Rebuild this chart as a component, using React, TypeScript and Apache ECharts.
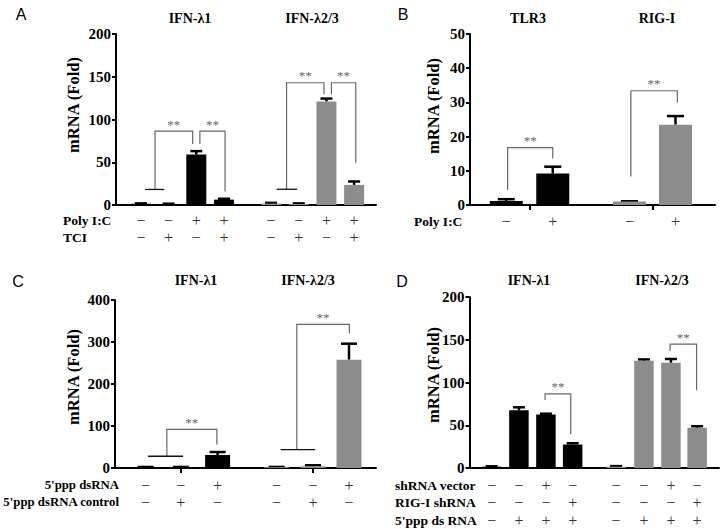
import React, { useEffect, useRef } from "react";
import * as echarts from "echarts";

const SERIF = "Liberation Serif, Times New Roman, serif";
const SANS = "Liberation Sans, Arial, sans-serif";

// ---------- Panel A ----------
const aGenes = ["IFN-λ1", "IFN-λ2/3"];
const aX = [0.9, 1.9, 2.9, 3.9, 5.6, 6.6, 7.6, 8.6];
const aGroup = [0, 0, 0, 0, 1, 1, 1, 1];
const aVal = [1.5, 1.2, 59, 6.3, 1.6, 1.2, 121, 23.5];
const aErr = [1.9, 1.5, 63, 7.3, 2.5, 1.9, 124.5, 27.5];
const aPolyIC = ["−", "−", "+", "+", "−", "−", "+", "+"];
const aTCI = ["−", "+", "−", "+", "−", "+", "−", "+"];
const aRowNames = ["Poly I:C", "TCI"];
// [xLeft, xRight, yTop, yLeftEnd, yRightEnd]
const aBrackets = [
  [1.41, 2.77, 86.4, 18.2, 71.4],
  [3.03, 3.94, 86.4, 71.4, 15.8],
  [6.16, 7.51, 143, 18.4, 129.5],
  [7.78, 8.66, 143, 129.5, 49.5],
];
// [xStart, xEnd, y]
const aLines = [
  [1.05, 1.74, 18.2],
  [5.8, 6.54, 18.4],
];

// ---------- Panel B ----------
const bGenes = ["TLR3", "RIG-I"];
const bX = [0.78, 1.78, 3.43, 4.42];
const bGroup = [0, 0, 1, 1];
const bVal = [1.2, 9.2, 1.0, 23.5];
const bErr = [1.7, 11.2, 1.1, 26.0];
const bPolyIC = ["−", "+", "−", "+"];
const bRowNames = ["Poly I:C"];
const bTicks = [1.285, 3.925];
const bBrackets = [
  [0.81, 1.78, 16.8, 4.4, 13.6],
  [3.46, 4.46, 33.4, 8.3, 29.9],
];

// ---------- Panel C ----------
const cGenes = ["IFN-λ1", "IFN-λ2/3"];
const cX = [0.85, 1.83, 2.85, 4.49, 5.5, 6.5];
const cGroup = [0, 0, 0, 1, 1, 1];
const cVal = [2, 2, 31, 2, 4, 258];
const cErr = [2.5, 2.5, 38, 2.5, 6.5, 296];
const cPpp = ["−", "−", "+", "−", "−", "+"];
const cPppCtrl = ["−", "+", "−", "−", "+", "−"];
const cRowNames = ["5'ppp dsRNA", "5'ppp dsRNA control"];
const cTicks = [1.83, 5.5];
const cBrackets = [
  [1.44, 2.83, 92, 28, 55.7],
  [5.05, 6.51, 342, 43.6, 320],
];
const cLines = [
  [0.92, 1.89, 28],
  [4.6, 5.56, 43.6],
];

// ---------- Panel D ----------
const dGenes = ["IFN-λ1", "IFN-λ2/3"];
const dX = [0.82, 1.83, 2.83, 3.82, 5.43, 6.46, 7.46, 8.43];
const dGroup = [0, 0, 0, 0, 1, 1, 1, 1];
const dVal = [1.5, 67.5, 62.5, 27.5, 1.5, 125.5, 123, 47];
const dErr = [2, 71, 63.5, 29, 2.2, 127, 127.5, 48.8];
const dVector = ["−", "−", "+", "−", "−", "−", "+", "−"];
const dRig = ["−", "−", "−", "+", "−", "−", "−", "+"];
const dPpp = ["−", "+", "+", "+", "−", "+", "+", "+"];
const dRowNames = ["shRNA vector", "RIG-I shRNA", "5'ppp ds RNA"];
const dBrackets = [
  [2.8, 3.75, 86.6, 79.5, 39.6],
  [7.43, 8.41, 145, 137, 91],
];

const COLORS = ["#000000", "#8c8c8c"];

type PanelDef = {
  grid: any;
  xMax: number;
  yMax: number;
  yInterval: number;
  xs: number[];
  groups: number[];
  vals: number[];
  errs: number[];
  barWidth: number;
  cap: number;
  rows: string[][];
  rowOffsets: number[];
  brackets: number[][];
  lines: number[][];
  ticks: number[] | null;
};

const panels: PanelDef[] = [
  {
    grid: { left: 116, top: 34, width: 260, height: 171 },
    xMax: 9.39, yMax: 200, yInterval: 50,
    xs: aX, groups: aGroup, vals: aVal, errs: aErr,
    barWidth: 20, cap: 12,
    rows: [aPolyIC, aTCI], rowOffsets: [15, 32],
    brackets: aBrackets, lines: aLines, ticks: null,
  },
  {
    grid: { left: 470, top: 34, width: 245, height: 171 },
    xMax: 5.27, yMax: 50, yInterval: 10,
    xs: bX, groups: bGroup, vals: bVal, errs: bErr,
    barWidth: 33, cap: 17,
    rows: [bPolyIC], rowOffsets: [16],
    brackets: bBrackets, lines: [], ticks: bTicks,
  },
  {
    grid: { left: 115, top: 300, width: 261, height: 168 },
    xMax: 7.25, yMax: 400, yInterval: 100,
    xs: cX, groups: cGroup, vals: cVal, errs: cErr,
    barWidth: 25, cap: 16,
    rows: [cPpp, cPppCtrl], rowOffsets: [17, 34],
    brackets: cBrackets, lines: cLines, ticks: cTicks,
  },
  {
    grid: { left: 469.5, top: 297, width: 249.5, height: 171 },
    xMax: 9.24, yMax: 200, yInterval: 50,
    xs: dX, groups: dGroup, vals: dVal, errs: dErr,
    barWidth: 19.5, cap: 12,
    rows: [dVector, dRig, dPpp], rowOffsets: [17, 34, 52],
    brackets: dBrackets, lines: [], ticks: null,
  },
];

function buildOption() {
  const grid: any[] = [];
  const xAxis: any[] = [];
  const yAxis: any[] = [];
  const series: any[] = [];

  panels.forEach((p, i) => {
    grid.push({ ...p.grid, containLabel: false });
    xAxis.push({
      type: "value",
      gridIndex: i,
      min: 0,
      max: p.xMax,
      axisLine: { show: true, onZero: false, lineStyle: { color: "#000", width: 2 } },
      axisTick: p.ticks
        ? { show: true, customValues: p.ticks, length: 5, inside: false, lineStyle: { color: "#000", width: 2 } }
        : { show: false },
      axisLabel: { show: false },
      splitLine: { show: false },
    });
    yAxis.push({
      type: "value",
      gridIndex: i,
      min: 0,
      max: p.yMax,
      interval: p.yInterval,
      axisLine: { show: true, lineStyle: { color: "#000", width: 2 } },
      axisTick: { show: true, length: 4, lineStyle: { color: "#000", width: 2 } },
      axisLabel: {
        color: "#000",
        fontFamily: SERIF,
        fontWeight: "bold",
        fontSize: 15,
        margin: 5,
      },
      splitLine: { show: false },
    });

    series.push({
      type: "bar",
      xAxisIndex: i,
      yAxisIndex: i,
      barWidth: p.barWidth,
      data: p.xs.map((x, k) => ({
        value: [x, p.vals[k]],
        itemStyle: { color: COLORS[p.groups[k]] },
      })),
    });

    const cap = p.cap;
    series.push({
      type: "custom",
      xAxisIndex: i,
      yAxisIndex: i,
      clip: false,
      data: p.xs.map((x, k) => [x, p.vals[k], p.errs[k]]),
      renderItem: (params: any, api: any) => {
        const x = api.value(0);
        const p0 = api.coord([x, api.value(1)]);
        const p1 = api.coord([x, api.value(2)]);
        return {
          type: "group",
          children: [
            { type: "line", shape: { x1: p0[0], y1: p0[1], x2: p1[0], y2: p1[1] }, style: { stroke: "#000", lineWidth: 2.5 } },
            { type: "line", shape: { x1: p1[0] - cap / 2, y1: p1[1], x2: p1[0] + cap / 2, y2: p1[1] }, style: { stroke: "#000", lineWidth: 2.5 } },
          ],
        };
      },
    });

    series.push({
      type: "custom",
      xAxisIndex: i,
      yAxisIndex: i,
      clip: false,
      data: p.brackets,
      renderItem: (params: any, api: any) => {
        const x1 = api.value(0), x2 = api.value(1), yt = api.value(2), yl = api.value(3), yr = api.value(4);
        const a = api.coord([x1, yl]);
        const b = api.coord([x1, yt]);
        const c = api.coord([x2, yt]);
        const d = api.coord([x2, yr]);
        return {
          type: "group",
          children: [
            { type: "polyline", shape: { points: [a, b, c, d] }, style: { stroke: "#666", lineWidth: 1.2, fill: "none" } },
            {
              type: "text",
              x: (b[0] + c[0]) / 2,
              y: b[1] - 7,
              style: { text: "**", fill: "#666", fontSize: 13, fontFamily: SERIF, align: "center", verticalAlign: "middle" },
            },
          ],
        };
      },
    });

    if (p.lines.length) {
      series.push({
        type: "custom",
        xAxisIndex: i,
        yAxisIndex: i,
        clip: false,
        data: p.lines,
        renderItem: (params: any, api: any) => {
          const a = api.coord([api.value(0), api.value(2)]);
          const b = api.coord([api.value(1), api.value(2)]);
          return { type: "line", shape: { x1: a[0], y1: a[1], x2: b[0], y2: b[1] }, style: { stroke: "#111", lineWidth: 1.3 } };
        },
      });
    }

    const entries: { x: number; row: number; text: string }[] = [];
    p.rows.forEach((row, r) => row.forEach((t, k) => entries.push({ x: p.xs[k], row: r, text: t })));
    const offs = p.rowOffsets;
    series.push({
      type: "custom",
      xAxisIndex: i,
      yAxisIndex: i,
      clip: false,
      data: entries.map((e) => [e.x, 0, e.row]),
      renderItem: (params: any, api: any) => {
        const e = entries[params.dataIndex];
        const pt = api.coord([api.value(0), 0]);
        return {
          type: "text",
          x: pt[0],
          y: pt[1] + offs[e.row],
          style: { text: e.text, fill: "#333", fontSize: 16, fontFamily: SERIF, align: "center", verticalAlign: "middle" },
        };
      },
    });
  });

  const txt = (text: string, x: number, y: number, opts: any = {}) => ({
    type: "text",
    x,
    y,
    rotation: opts.rotation || 0,
    style: {
      text,
      fill: "#000",
      fontSize: opts.size || 14,
      fontWeight: opts.weight || "bold",
      fontFamily: opts.family || SERIF,
      align: opts.align || "center",
      verticalAlign: "middle",
    },
  });

  const graphic: any[] = [
    txt("A", 21, 14, { family: SANS, weight: "normal", size: 16 }),
    txt("B", 403, 14, { family: SANS, weight: "normal", size: 16 }),
    txt("C", 18, 281, { family: SANS, weight: "normal", size: 16 }),
    txt("D", 402, 281, { family: SANS, weight: "normal", size: 16 }),
    txt(aGenes[0], 190, 18),
    txt(aGenes[1], 312, 18),
    txt(bGenes[0], 528, 18),
    txt(bGenes[1], 657, 18),
    txt(cGenes[0], 196, 280),
    txt(cGenes[1], 308, 280),
    txt(dGenes[0], 529, 280),
    txt(dGenes[1], 662, 280),
    txt("mRNA (Fold)", 73, 105, { size: 16.5, rotation: Math.PI / 2 }),
    txt("mRNA (Fold)", 433, 106, { size: 16.5, rotation: Math.PI / 2 }),
    txt("mRNA (Fold)", 73, 377, { size: 16.5, rotation: Math.PI / 2 }),
    txt("mRNA (Fold)", 433, 375, { size: 16.5, rotation: Math.PI / 2 }),
    txt(aRowNames[0], 63, 220, { size: 13.5, align: "left" }),
    txt(aRowNames[1], 63, 237, { size: 13.5, align: "left" }),
    txt(bRowNames[0], 414, 221, { size: 13.5, align: "left" }),
    txt(cRowNames[0], 119, 485, { size: 12.8, align: "right" }),
    txt(cRowNames[1], 119, 502, { size: 12.8, align: "right" }),
    txt(dRowNames[0], 395, 485, { size: 13.5, align: "left" }),
    txt(dRowNames[1], 395, 502, { size: 13.5, align: "left" }),
    txt(dRowNames[2], 395, 520, { size: 13.5, align: "left" }),
  ];

  return {
    animation: false,
    backgroundColor: "#ffffff",
    grid,
    xAxis,
    yAxis,
    series,
    graphic,
  };
}

export default function App() {
  const ref = useRef<HTMLDivElement>(null);
  useEffect(() => {
    if (!ref.current) return;
    const chart = echarts.init(ref.current, undefined, { renderer: "svg" });
    chart.setOption(buildOption() as any);
    return () => chart.dispose();
  }, []);
  return (
    <div
      ref={ref}
      style={{ position: "absolute", left: 0, top: 0, width: 722, height: 529, background: "#fff" }}
    />
  );
}
